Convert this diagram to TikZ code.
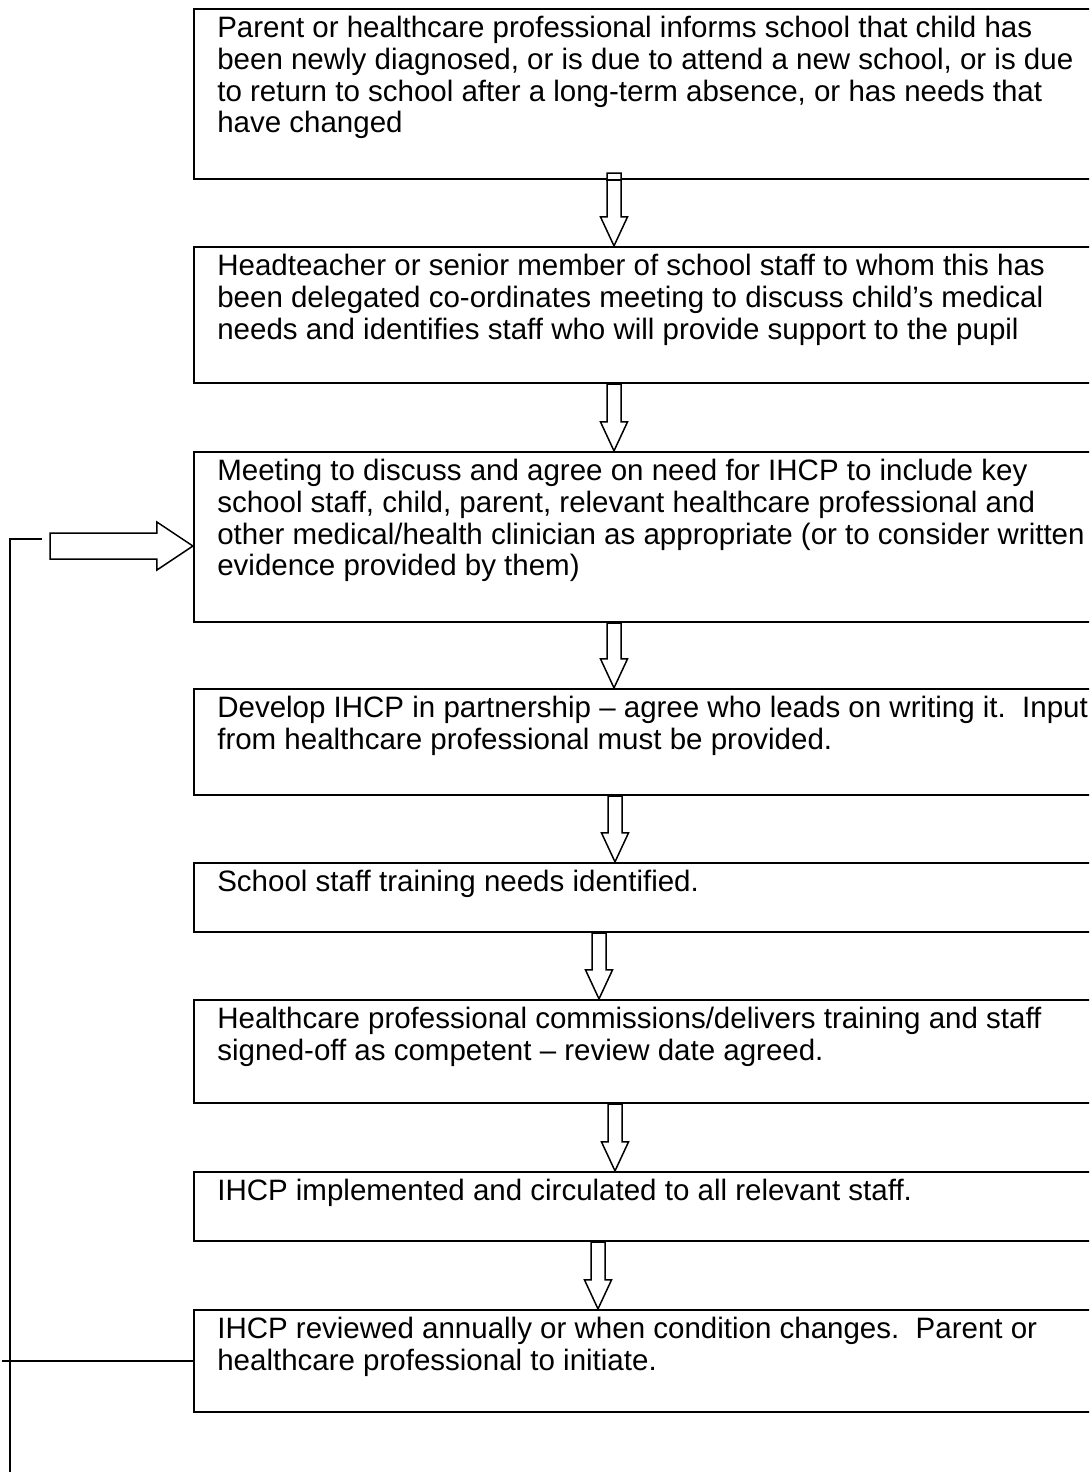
\documentclass[tikz,border=0pt]{standalone}
\usepackage{fontspec}
\setmainfont{Liberation Sans}
\usepackage{tikz}
\usetikzlibrary{positioning,calc,fit}

% hollow block arrow from the bottom of one step to the top of the next
% #1 upper step, #2 lower step, #3 x of the shaft, #4 how far the shaft starts above #1
\newcommand{\downblock}[4]{%
  \draw[blockarrow] ($(#1.south -| #3,0)+(-7,-#4)$) -- ($(#2.north -| #3,0)+(-7,-29)$)
    -- ++(-6.5,0) -- (#2.north -| #3,0) -- ++(13.5,-29) -- ++(-6.5,0)
    -- ($(#1.south -| #3,0)+(7,-#4)$) -- cycle;}

\begin{document}
\begin{tikzpicture}[x=0.5pt,y=-0.5pt]
\tikzstyle{stepbox}=[rectangle,draw=black,line width=1.1pt,inner sep=0pt]
\tikzstyle{steptext}=[inner sep=0pt,align=left,font=\fontsize{14.75}{15.85}\selectfont]
\tikzstyle{blockarrow}=[draw=black,line width=0.75pt,fill=white,line join=miter]
\tikzstyle{loopline}=[draw=black,line width=0.7pt]
\useasboundingbox (0,0) rectangle (1089,1472);
\clip (0,0) rectangle (1089,1472);

\node[stepbox,fit={(194,9) (1100,179)}] (b1) {};
\node[steptext,below right=4pt and 12pt of b1.north west] (t1) {Parent or healthcare professional informs school that child has\\
been newly diagnosed, or is due to attend a new school, or is due\\
to return to school after a long-term absence, or has needs that\\
have changed};

\node[stepbox,fit={(194,247) (1100,383)}] (b2) {};
\node[steptext,below right=4pt and 12pt of b2.north west] (t2) {Headteacher or senior member of school staff to whom this has\\
been delegated co-ordinates meeting to discuss child’s medical\\
needs and identifies staff who will provide support to the pupil};

\node[stepbox,fit={(194,452) (1100,622)}] (b3) {};
\node[steptext,below right=4pt and 12pt of b3.north west] (t3) {Meeting to discuss and agree on need for IHCP to include key\\
school staff, child, parent, relevant healthcare professional and\\
other medical/health clinician as appropriate (or to consider written\\
evidence provided by them)};

\node[stepbox,fit={(194,689) (1100,795)}] (b4) {};
\node[steptext,below right=4pt and 12pt of b4.north west] (t4) {Develop IHCP in partnership – agree who leads on writing it.\ \ Input\\
from healthcare professional must be provided.};

\node[stepbox,fit={(194,863) (1100,932)}] (b5) {};
\node[steptext,below right=4pt and 12pt of b5.north west] (t5) {School staff training needs identified.};

\node[stepbox,fit={(194,1000) (1100,1103)}] (b6) {};
\node[steptext,below right=4pt and 12pt of b6.north west] (t6) {Healthcare professional commissions/delivers training and staff\\
signed-off as competent – review date agreed.};

\node[stepbox,fit={(194,1172) (1100,1241)}] (b7) {};
\node[steptext,below right=4pt and 12pt of b7.north west] (t7) {IHCP implemented and circulated to all relevant staff.};

\node[stepbox,fit={(194,1310) (1100,1412)}] (b8) {};
\node[steptext,below right=4pt and 12pt of b8.north west] (t8) {IHCP reviewed annually or when condition changes.\ \ Parent or\\
healthcare professional to initiate.};

% arrows down the chain
\downblock{b1}{b2}{614}{7}
\draw[stepbox] (b1.south -| 606,0) -- (b1.south -| 622,0);
\downblock{b2}{b3}{614}{0}
\downblock{b3}{b4}{614}{0}
\downblock{b4}{b5}{615}{0}
\downblock{b5}{b6}{599}{0}
\downblock{b6}{b7}{615}{0}
\downblock{b7}{b8}{598}{0}

% review loops back to the meeting
\coordinate (loopin) at (42,539);
\coordinate (looptop) at (10,539);
\coordinate (loopfoot) at (10,1472);
\coordinate (loopcross) at (2,1361);
\draw[loopline] (b8.west) -- (loopcross);
\draw[loopline] (loopin) -- (looptop) -- (loopfoot);
\coordinate (backtip) at (b3.west |- 0,546);
\draw[blockarrow] (50,533) -- ($(backtip)+(-36,-13)$) -- ++(0,-11) -- (backtip)
  -- ++(-36,24) -- ++(0,-11) -- (50,559) -- cycle;
\end{tikzpicture}
\end{document}
